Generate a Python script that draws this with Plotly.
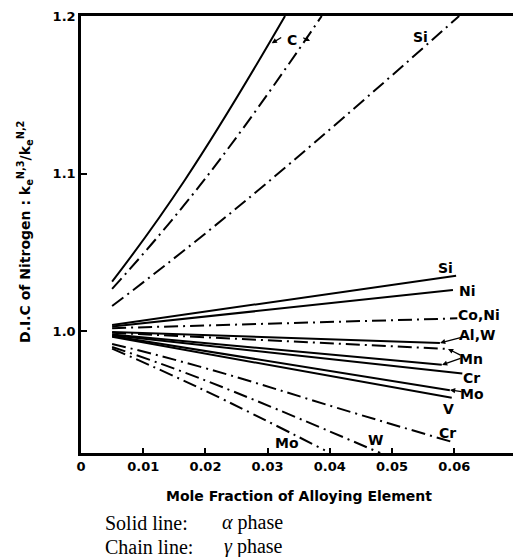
import plotly.graph_objects as go

# ---------------- data ----------------
C_alpha_x = [0.005, 0.0167, 0.0328]
C_alpha_y = [1.0315, 1.096, 1.2]
C_gamma_x = [0.005, 0.0200, 0.0387]
C_gamma_y = [1.0269, 1.097, 1.2]
Si_gamma_x = [0.005, 0.0266, 0.0608]
Si_gamma_y = [1.016, 1.0833, 1.2]

Si_alpha_x = [0.005, 0.0603]
Si_alpha_y = [1.004, 1.0353]
Ni_alpha_x = [0.005, 0.0598]
Ni_alpha_y = [1.003, 1.0262]
CoNi_gamma_x = [0.005, 0.0605]
CoNi_gamma_y = [1.002, 1.0082]
AlW_alpha_x = [0.005, 0.0577]
AlW_alpha_y = [0.9995, 0.9926]
Mn_gamma_x = [0.005, 0.0590]
Mn_gamma_y = [0.9990, 0.9888]
Mn_alpha_x = [0.005, 0.0580]
Mn_alpha_y = [0.998, 0.9787]
Cr_alpha_x = [0.005, 0.0613]
Cr_alpha_y = [0.9975, 0.9732]
Mo_alpha_x = [0.005, 0.0593]
Mo_alpha_y = [0.997, 0.9626]
V_alpha_x = [0.005, 0.0596]
V_alpha_y = [0.9965, 0.9578]
Cr_gamma_x = [0.005, 0.0191, 0.0449, 0.0595]
Cr_gamma_y = [0.992, 0.9776, 0.947, 0.930]
W_gamma_x = [0.005, 0.0191, 0.0481]
W_gamma_y = [0.990, 0.9702, 0.9228]
Mo_gamma_x = [0.005, 0.0191, 0.0392]
Mo_gamma_y = [0.989, 0.9639, 0.9245]

x_ticks = [0, 0.01, 0.02, 0.03, 0.04, 0.05, 0.06]
x_ticktext = ["0", "0.01", "0.02", "0.03", "0.04", "0.05", "0.06"]
y_ticks = [1.0, 1.1, 1.2]
y_ticktext = ["1.0", "1.1", "1.2"]

label_text = ["C", "Si", "Si", "Ni", "Co,Ni", "Al,W", "Mn", "Cr", "Mo", "V", "Cr", "W", "Mo"]
label_x = [0.03387, 0.0545, 0.05852, 0.06206, 0.06399, 0.06367, 0.0627, 0.0627, 0.06286, 0.05916, 0.05884, 0.04727, 0.03317]
label_y = [1.1848, 1.1867, 1.0402, 1.0258, 1.0104, 0.99772, 0.98231, 0.97026, 0.96030, 0.95080, 0.93577, 0.93114, 0.92904]

# arrows: tail -> tip
arrow_tail_x = [0.03243, 0.03548, 0.06141, 0.06125, 0.06125, 0.06141]
arrow_tail_y = [1.1869, 1.1867, 0.99645, 0.98440, 0.98313, 0.96157]
arrow_tip_x = [0.03066, 0.03682, 0.05772, 0.05900, 0.05804, 0.05932]
arrow_tip_y = [1.1827, 1.1841, 0.99265, 0.98884, 0.97869, 0.96284]

# ---------------- figure ----------------
series = [
    (C_alpha_x, C_alpha_y, "solid"),
    (C_gamma_x, C_gamma_y, "chain"),
    (Si_gamma_x, Si_gamma_y, "chain"),
    (Si_alpha_x, Si_alpha_y, "solid"),
    (Ni_alpha_x, Ni_alpha_y, "solid"),
    (CoNi_gamma_x, CoNi_gamma_y, "chain"),
    (AlW_alpha_x, AlW_alpha_y, "solid"),
    (Mn_gamma_x, Mn_gamma_y, "chain"),
    (Mn_alpha_x, Mn_alpha_y, "solid"),
    (Cr_alpha_x, Cr_alpha_y, "solid"),
    (Mo_alpha_x, Mo_alpha_y, "solid"),
    (V_alpha_x, V_alpha_y, "solid"),
    (Cr_gamma_x, Cr_gamma_y, "chain"),
    (W_gamma_x, W_gamma_y, "chain"),
    (Mo_gamma_x, Mo_gamma_y, "chain"),
]

CHAIN = "14px,5px,2px,5px"

fig = go.Figure()
for xs, ys, kind in series:
    fig.add_trace(go.Scatter(
        x=xs, y=ys, mode="lines",
        line=dict(color="black", width=2,
                  dash="solid" if kind == "solid" else CHAIN,
                  shape="spline", smoothing=1.3),
        showlegend=False, hoverinfo="skip",
    ))

label_font = dict(family="DejaVu Sans", size=14, color="black", weight="bold")
for t, lx, ly in zip(label_text, label_x, label_y):
    fig.add_annotation(x=lx, y=ly, text=t, showarrow=False, font=label_font,
                       xanchor="center", yanchor="middle")

for tx, ty, hx, hy in zip(arrow_tail_x, arrow_tail_y, arrow_tip_x, arrow_tip_y):
    fig.add_annotation(x=hx, y=hy, ax=tx, ay=ty, xref="x", yref="y",
                       axref="x", ayref="y", text="", showarrow=True,
                       arrowhead=2, arrowsize=0.8, arrowwidth=1.3,
                       arrowcolor="black", standoff=0, startstandoff=0)

title_font = dict(family="DejaVu Sans", size=14, color="black", weight="bold")
fig.add_annotation(xref="paper", yref="paper", x=0.5046, y=-0.0984,
                   text="Mole Fraction of Alloying Element", showarrow=False,
                   font=title_font, xanchor="center", yanchor="middle")
fig.add_annotation(xref="paper", yref="paper", x=-0.1296, y=0.506,
                   text="D.I.C of Nitrogen : k<sub>e</sub><sup>N,3</sup>/k<sub>e</sub><sup>N,2</sup>",
                   textangle=-90, showarrow=False, font=title_font,
                   xanchor="center", yanchor="middle")
serif = dict(family="Liberation Serif", size=20, color="black")
fig.add_annotation(xref="paper", yref="paper", x=0.0509, y=-0.160,
                   text="Solid line:", showarrow=False, font=serif,
                   xanchor="left", yanchor="middle")
fig.add_annotation(xref="paper", yref="paper", x=0.322, y=-0.160,
                   text="<i>α</i> phase", showarrow=False, font=serif,
                   xanchor="left", yanchor="middle")
fig.add_annotation(xref="paper", yref="paper", x=0.0509, y=-0.215,
                   text="Chain line:", showarrow=False, font=serif,
                   xanchor="left", yanchor="middle")
fig.add_annotation(xref="paper", yref="paper", x=0.326, y=-0.215,
                   text="<i>γ</i> phase", showarrow=False, font=serif,
                   xanchor="left", yanchor="middle")

tick_font = dict(family="DejaVu Sans", size=13, color="black", weight="bold")
fig.update_layout(
    width=513, height=557,
    margin=dict(l=81, r=0, t=16, b=104),
    paper_bgcolor="white", plot_bgcolor="white",
    xaxis=dict(range=[0, 0.06945], tickvals=x_ticks, ticktext=x_ticktext,
               ticks="inside", ticklen=5, tickwidth=1.5, tickcolor="black",
               showline=True, linecolor="black", linewidth=2.5, mirror=True,
               showgrid=False, zeroline=False, tickfont=tick_font),
    yaxis=dict(range=[0.9228, 1.2], tickvals=y_ticks, ticktext=y_ticktext,
               ticks="inside", ticklen=6, tickwidth=1.5, tickcolor="black",
               showline=True, linecolor="black", linewidth=2.5, mirror=False,
               showgrid=False, zeroline=False, tickfont=tick_font),
)

fig.write_html("out.html")
